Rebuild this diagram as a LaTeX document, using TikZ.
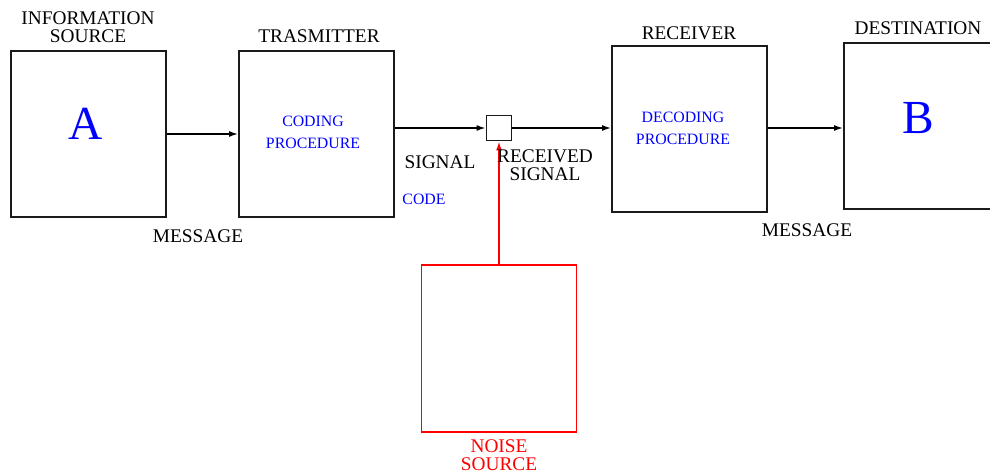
\documentclass[tikz,border=0pt]{standalone}
\usepackage{fontspec}
\setmainfont{Liberation Serif}
\usepackage{tikz}
\usetikzlibrary{arrows.meta,calc}
\definecolor{figblue}{HTML}{0000FF}
\definecolor{noisered}{HTML}{FF0000}
\definecolor{boxgrey}{HTML}{1A1A1A}

\begin{document}
\begin{tikzpicture}[
  blk/.style={rectangle, draw=boxgrey, line width=1pt, minimum width=3.1cm, minimum height=3.32cm, inner sep=0pt},
  lbl/.style={align=center, inner sep=0pt, font=\fontsize{11}{10.5}\selectfont},
  proc/.style={align=center, inner sep=0pt, text=figblue, font=\fontsize{9}{12.5}\selectfont},
  big/.style={inner sep=0pt, text=figblue, font=\fontsize{27}{27}\selectfont},
  arr/.style={-{Latex[length=1.8mm,width=1.2mm]}, line width=0.9pt},
]
\useasboundingbox (0,0) rectangle (19.8,-9.5);

% Blocks along the channel
\node[blk] (src) at (1.77,-2.68) {};
\node[blk] (trans) at (6.33,-2.68) {};
\node[blk, minimum width=0.5cm, minimum height=0.5cm] (junc) at (9.98,-2.56) {};
\node[blk] (rec) at (13.79,-2.58) {};
\node[blk] (dest) at (18.43,-2.52) {};

% Noise source (red)
\node[blk, draw=noisered, minimum height=3.34cm] (noise) at (9.98,-6.97) {};

% Titles above blocks
\node[lbl] (srcT) at (1.76,-0.54) {INFORMATION\\SOURCE};
\node[lbl] (transT) at (6.38,-0.72) {TRASMITTER};
\node[lbl] (recT) at (13.78,-0.66) {RECEIVER};
\node[lbl] (destT) at (18.36,-0.56) {DESTINATION};

% Contents
\node[big] (letA) at (1.72,-2.48) {A};
\node[proc] (coding) at (6.26,-2.64) {CODING\\PROCEDURE};
\node[proc] (decoding) at (13.66,-2.57) {DECODING\\PROCEDURE};
\node[big] (letB) at (18.36,-2.36) {B};

% Connectors
\draw[arr] (src) -- (trans);
\draw[arr] (trans.east |- junc) -- (junc);
\draw[arr] (junc) -- (rec.west |- junc);
\draw[arr] (rec.east |- junc) -- (dest.west |- junc);
\draw[arr, noisered] (noise) -- (junc);

% Signal labels
\node[lbl] (msgA) at (3.96,-4.72) {MESSAGE};
\node[lbl] (sig) at (8.8,-3.24) {SIGNAL};
\node[lbl] (rsig) at (10.9,-3.3) {RECEIVED\\SIGNAL};
\node[proc] (code) at (8.48,-3.98) {CODE};
\node[lbl] (msgB) at (16.14,-4.6) {MESSAGE};
\node[lbl, text=noisered] (noiseT) at (9.98,-9.1) {NOISE\\SOURCE};
\end{tikzpicture}
\end{document}
